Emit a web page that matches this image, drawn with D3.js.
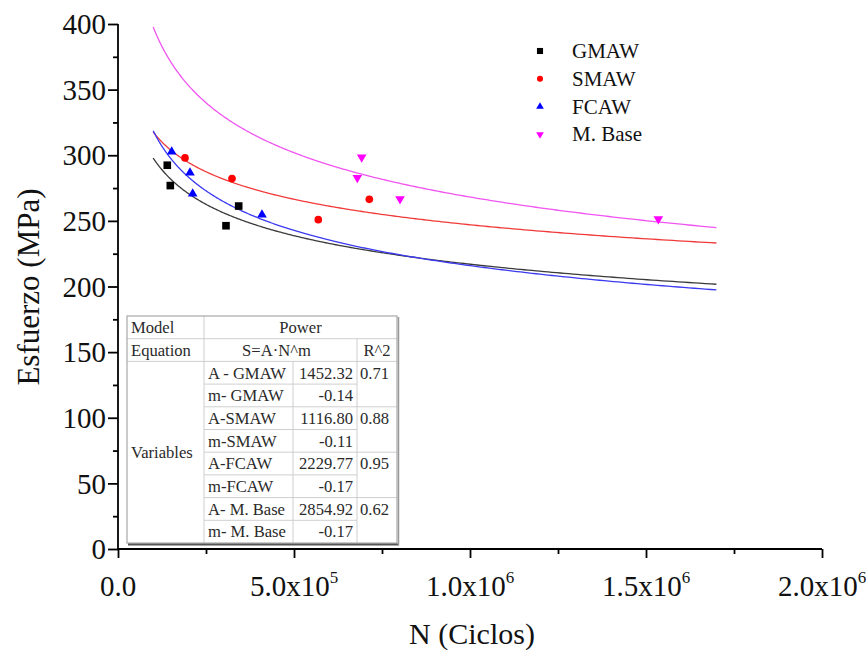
<!DOCTYPE html>
<html>
<head>
<meta charset="utf-8">
<script src="https://cdn.jsdelivr.net/npm/d3@7"></script>
<style>
  html, body { margin: 0; padding: 0; background: #fff; }
  svg { display: block; font-family: "Liberation Serif", "Times New Roman", serif; }
</style>
</head>
<body>
<svg id="chart" width="866" height="652"></svg>
<script>
// ---- Data ----
const seriesNames = ["GMAW", "SMAW", "FCAW", "M. Base"];
const seriesColors = ["#000000", "#ff0000", "#0000ff", "#ff00ff"];
const curveColors = ["#3a3a3a", "#f03a3a", "#3a3af0", "#f055f0"];

const gmawN = [140000, 148600, 306800, 342900];
const gmawS = [292.4, 276.9, 246.3, 261.3];
const smawN = [190300, 323900, 569000, 714000];
const smawS = [298.0, 282.2, 250.9, 266.4];
const fcawN = [152500, 204500, 212200, 409000];
const fcawS = [302.6, 286.6, 270.7, 254.7];
const baseN = [679900, 692300, 801200, 1535000];
const baseS = [282.8, 298.5, 266.7, 251.4];

// Power-law fit S = A * N^m for each series
const fitA = [1452.32, 1116.80, 2229.77, 2854.92];
const fitM = [-0.1376, -0.1092, -0.1690, -0.1712];
const fitR2 = [0.71, 0.88, 0.95, 0.62];
const fitRange = [1e5, 1.7e6];

// Table row labels
const tableAParams = ["A - GMAW", "A-SMAW", "A-FCAW", "A- M. Base"];
const tableMParams = ["m- GMAW", "m-SMAW", "m-FCAW", "m- M. Base"];

const xTicks = [0, 5e5, 1e6, 1.5e6, 2e6];
const yTicks = [0, 50, 100, 150, 200, 250, 300, 350, 400];

// ---- Layout ----
const svg = d3.select("#chart");
const x = d3.scaleLinear().domain([0, 2e6]).range([118, 822]);
const y = d3.scaleLinear().domain([0, 400]).range([549, 24]);

const series = [
  { N: gmawN, S: gmawS, shape: "square" },
  { N: smawN, S: smawS, shape: "circle" },
  { N: fcawN, S: fcawS, shape: "up" },
  { N: baseN, S: baseS, shape: "down" }
];

function symbolPath(shape, scale) {
  const k = scale || 1;
  if (shape === "square") return d3.symbol(d3.symbolSquare, 58 * k * k)();
  if (shape === "circle") return d3.symbol(d3.symbolCircle, 46 * k * k)();
  return d3.symbol(d3.symbolTriangle, 40 * k * k)();
}

// ---- Fitted curves ----
const curveGroup = svg.append("g");
seriesNames.forEach((name, i) => {
  const pts = d3.range(0, 301).map(j => {
    const n = fitRange[0] * Math.pow(fitRange[1] / fitRange[0], j / 300);
    return [n, fitA[i] * Math.pow(n, fitM[i])];
  });
  curveGroup.append("path")
    .datum(pts)
    .attr("fill", "none")
    .attr("stroke", curveColors[i])
    .attr("stroke-width", 1.3)
    .attr("d", d3.line().x(d => x(d[0])).y(d => y(d[1])));
});

// ---- Data points ----
series.forEach((s, i) => {
  svg.append("g").selectAll("path")
    .data(s.N.map((n, j) => [n, s.S[j]]))
    .join("path")
    .attr("d", symbolPath(s.shape))
    .attr("fill", seriesColors[i])
    .attr("transform", d => `translate(${x(d[0])},${y(d[1])})` + (s.shape === "down" ? " rotate(180)" : ""));
});

// ---- Axes ----
const axisFont = 29;
const xAxis = svg.append("g").attr("transform", `translate(0,${y(0)})`);
xAxis.call(d3.axisBottom(x).tickValues(d3.range(0, 2e6 + 1, 2.5e5)).tickSize(5).tickFormat(""));
xAxis.selectAll(".tick line").filter(d => xTicks.includes(d)).attr("y2", 9);
xAxis.selectAll("line, path").attr("stroke", "#000").attr("stroke-width", 1.8);
xAxis.select(".domain").attr("d", `M${x(0)},0H${x(2e6)}`);

const yAxis = svg.append("g").attr("transform", `translate(${x(0)},0)`);
yAxis.call(d3.axisLeft(y).tickValues(d3.range(0, 401, 25)).tickSize(5).tickFormat(""));
yAxis.selectAll(".tick line").filter(d => yTicks.includes(d)).attr("x2", -10);
yAxis.selectAll("line, path").attr("stroke", "#000").attr("stroke-width", 1.8);
yAxis.select(".domain").attr("d", `M0,${y(400)}V${y(0)}`);

// y tick labels
svg.append("g").selectAll("text")
  .data(yTicks)
  .join("text")
  .attr("x", 106)
  .attr("y", d => y(d))
  .attr("dy", "0.35em")
  .attr("text-anchor", "end")
  .attr("font-size", axisFont)
  .attr("fill", "#111")
  .text(d => d);

// x tick labels with powers of ten
const xLab = svg.append("g").selectAll("text")
  .data(xTicks)
  .join("text")
  .attr("x", d => x(d))
  .attr("y", 596)
  .attr("text-anchor", "middle")
  .attr("font-size", axisFont)
  .attr("fill", "#111");
xLab.each(function(d) {
  const t = d3.select(this);
  if (d === 0) { t.text("0.0"); return; }
  const e = Math.floor(Math.log10(d));
  const mant = (d / Math.pow(10, e)).toFixed(1);
  t.append("tspan").text(mant + "x10");
  t.append("tspan").attr("font-size", 17).attr("dy", -13).text(e);
});

// axis titles
svg.append("text")
  .attr("x", 472).attr("y", 644)
  .attr("text-anchor", "middle")
  .attr("font-size", 30)
  .attr("fill", "#111")
  .text("N (Ciclos)");
svg.append("text")
  .attr("transform", "translate(39,287) rotate(-90)")
  .attr("text-anchor", "middle")
  .attr("font-size", 31)
  .attr("fill", "#111")
  .text("Esfuerzo (MPa)");

// ---- Legend ----
const legend = svg.append("g");
seriesNames.forEach((name, i) => {
  const by = 58 + i * 27.8;
  legend.append("path")
    .attr("d", symbolPath(series[i].shape, 0.8))
    .attr("fill", seriesColors[i])
    .attr("transform", `translate(540,${by - 7})` + (series[i].shape === "down" ? " rotate(180)" : ""));
  legend.append("text")
    .attr("x", 572).attr("y", by)
    .attr("font-size", 21)
    .attr("fill", "#111")
    .text(name);
});

// ---- Parameter table ----
const tb = svg.append("g");
const cx = [127, 204, 293, 357, 397];
const rowH = 22.7;
const tableTop = 316;
const ry = i => tableTop + i * rowH;
const nRows = 10;
const lineCol = "#cfcfcf";
const fs = 16.6;

tb.append("rect")
  .attr("x", cx[0]).attr("y", ry(0))
  .attr("width", cx[4] - cx[0]).attr("height", ry(nRows) - ry(0))
  .attr("fill", "#fff");

function hline(x1, x2, yy, col, w) {
  tb.append("line").attr("x1", x1).attr("x2", x2).attr("y1", yy).attr("y2", yy)
    .attr("stroke", col || lineCol).attr("stroke-width", w || 1);
}
function vline(xx, y1, y2, col, w) {
  tb.append("line").attr("x1", xx).attr("x2", xx).attr("y1", y1).attr("y2", y2)
    .attr("stroke", col || lineCol).attr("stroke-width", w || 1);
}

// internal grid
hline(cx[0], cx[4], ry(1));
hline(cx[0], cx[4], ry(2));
for (let r = 3; r < nRows; r++) {
  hline(cx[1], cx[3], ry(r));
  if ((r - 2) % 2 === 0) hline(cx[3], cx[4], ry(r));
}
vline(cx[1], ry(0), ry(nRows));
vline(cx[2], ry(2), ry(nRows));
vline(cx[3], ry(1), ry(nRows));

// outer border with a soft shadow on the lower right
tb.append("rect")
  .attr("x", cx[0]).attr("y", ry(0))
  .attr("width", cx[4] - cx[0]).attr("height", ry(nRows) - ry(0))
  .attr("fill", "none").attr("stroke", "#a8a8a8").attr("stroke-width", 1.2);
hline(cx[0] + 1, cx[4] + 2, ry(nRows) + 1.5, "#555", 2);
vline(cx[4] + 1.5, ry(0) + 1, ry(nRows) + 2, "#999", 1.5);

function cell(txt, xx, rowIdx, anchor) {
  tb.append("text")
    .attr("x", xx).attr("y", ry(rowIdx) + rowH / 2)
    .attr("dy", "0.35em")
    .attr("text-anchor", anchor || "start")
    .attr("font-size", fs)
    .attr("fill", "#2a2a2a")
    .text(txt);
}

cell("Model", cx[0] + 4, 0);
cell("Power", (cx[1] + cx[4]) / 2, 0, "middle");
cell("Equation", cx[0] + 4, 1);
cell("S=A\u00B7N^m", (cx[1] + cx[3]) / 2 - 4, 1, "middle");
cell("R^2", (cx[3] + cx[4]) / 2, 1, "middle");
tb.append("text")
  .attr("x", cx[0] + 4).attr("y", (ry(2) + ry(nRows)) / 2)
  .attr("dy", "0.35em")
  .attr("font-size", fs).attr("fill", "#2a2a2a")
  .text("Variables");

seriesNames.forEach((name, i) => {
  const rA = 2 + i * 2, rM = rA + 1;
  cell(tableAParams[i], cx[1] + 4, rA);
  cell(fitA[i].toFixed(2), cx[3] - 4, rA, "end");
  cell(fitR2[i].toFixed(2), cx[3] + 3, rA);
  cell(tableMParams[i], cx[1] + 4, rM);
  cell(fitM[i].toFixed(2), cx[3] - 4, rM, "end");
});
</script>
</body>
</html>
